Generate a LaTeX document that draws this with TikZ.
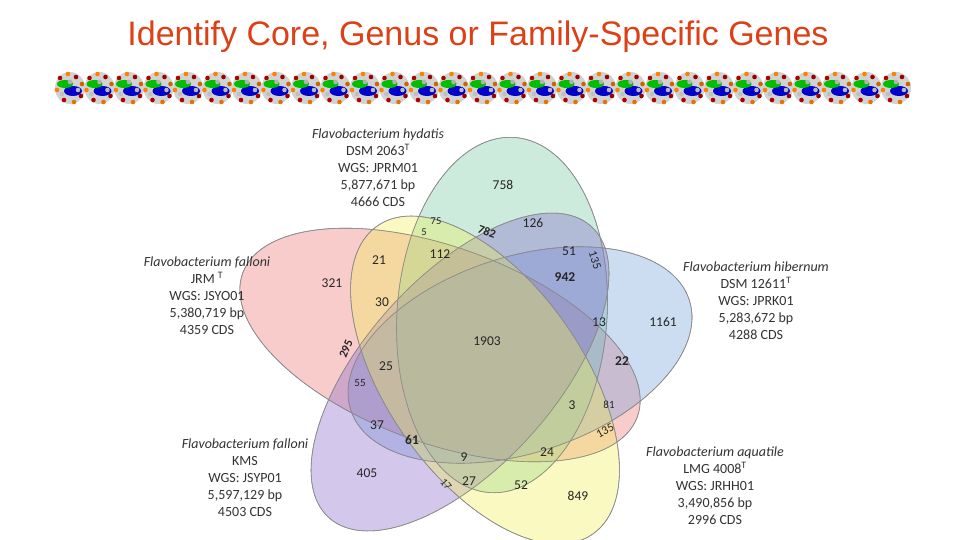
\documentclass[tikz,border=0pt]{standalone}
\usepackage{fontspec}
\setmainfont{Carlito}
\newfontfamily\titlefont{Liberation Sans}
\begin{document}
\begin{tikzpicture}[x=1pt,y=-1pt,
  venn/.style={draw=black!45,line width=0.6pt,fill opacity=0.35},
  num/.style={font=\fontsize{13.5}{14}\selectfont,text=black!85,inner sep=0pt},
  lab/.style={align=center,font=\fontsize{14}{17}\selectfont,text=black!80,inner sep=0pt}]
\useasboundingbox[fill=white] (0,0) rectangle (960,540);
\node[font=\titlefont\fontsize{34}{38}\selectfont,text={rgb,255:red,222;green,64;blue,22}] (title) at (478,37) {Identify Core, Genus or Family-Specific Genes};
% DNA strip
\foreach \i in {0,...,28}{
  \pgfmathsetmacro{\cx}{70+29.5*\i}
  \fill[gray!35] (\cx,88) ellipse (15 and 16);
  \fill[blue!80!black] (\cx+3,91) ellipse (9 and 5);
  \fill[green!75!black] (\cx-5,84) ellipse (8 and 4);
  \foreach \dx/\dy/\c in {-10/-10/red!70!black,-2/-14/orange,6/-11/red!60!black,12/-4/orange!80!black,-13/2/orange,-6/12/red!70!black,4/14/orange!90!black,11/8/red!60!black,0/-6/gray!60,-8/6/gray!50,8/2/gray!55}
    \fill[\c] (\cx+\dx,88+\dy) circle (2.3);
}
% ellipses
\fill[venn,fill={rgb,255:red,240;green,110;blue,110}] (440,345) ellipse[x radius=210,y radius=98,rotate=-20];
\fill[venn,fill={rgb,255:red,110;green,200;blue,160}] (502,315) ellipse[x radius=178,y radius=105,rotate=86];
\fill[venn,fill={rgb,255:red,110;green,160;blue,220}] (520,355) ellipse[x radius=178,y radius=98,rotate=18];
\fill[venn,fill={rgb,255:red,130;green,100;blue,200}] (460,372) ellipse[x radius=196,y radius=95,rotate=48];
\fill[venn,fill={rgb,255:red,240;green,240;blue,80}] (485,380) ellipse[x radius=188,y radius=98,rotate=-55];
\draw[draw=black!45,line width=0.6pt] (440,345) ellipse[x radius=210,y radius=98,rotate=-20]
  (502,315) ellipse[x radius=178,y radius=105,rotate=86]
  (520,355) ellipse[x radius=178,y radius=98,rotate=18]
  (460,372) ellipse[x radius=196,y radius=95,rotate=48]
  (485,380) ellipse[x radius=188,y radius=98,rotate=-55];
% numbers
\node[num] (n758) at (503,185) {758};
\node[num] (n126) at (533,223) {126};
\node[num,font=\fontsize{10.5}{12}\selectfont] (n75) at (436,221) {75};
\node[num,font=\fontsize{10.5}{12}\selectfont] (n5) at (424,232) {5};
\node[num,rotate=-20,font=\bfseries\fontsize{12}{14}\selectfont] (n782) at (487,232) {782};
\node[num] (n112) at (440,254) {112};
\node[num] (n21) at (379,260) {21};
\node[num] (n51) at (569,251) {51};
\node[num,rotate=-72,font=\fontsize{12}{14}\selectfont] (n135a) at (595,260) {135};
\node[num,font=\bfseries\fontsize{13.5}{14}\selectfont] (n942) at (565,277) {942};
\node[num] (n321) at (332,283) {321};
\node[num] (n30) at (382,302) {30};
\node[num] (n13) at (599,322) {13};
\node[num] (n1161) at (663,322) {1161};
\node[num] (n1903) at (487,341) {1903};
\node[num,rotate=68,font=\bfseries\fontsize{12}{14}\selectfont] (n295) at (346,349) {295};
\node[num] (n25) at (386,366) {25};
\node[num,font=\bfseries\fontsize{13.5}{14}\selectfont] (n22) at (622,361) {22};
\node[num,font=\fontsize{11}{12}\selectfont] (n55) at (360,383) {55};
\node[num] (n3) at (572,405) {3};
\node[num,font=\fontsize{11}{12}\selectfont] (n81) at (609,405) {81};
\node[num,rotate=28,font=\fontsize{12}{14}\selectfont] (n135b) at (605,431) {135};
\node[num] (n37) at (377,425) {37};
\node[num,font=\bfseries\fontsize{13.5}{14}\selectfont] (n61) at (412,440) {61};
\node[num] (n9) at (464,457) {9};
\node[num] (n24) at (547,452) {24};
\node[num] (n405) at (367,473) {405};
\node[num] (n27) at (469,481) {27};
\node[num,rotate=-50,font=\fontsize{11}{12}\selectfont] (n17) at (446,484) {17};
\node[num] (n52) at (521,485) {52};
\node[num] (n849) at (578,496) {849};
% labels
\node[lab,anchor=north] (hyd) at (378,129) {\textit{Flavobacterium hydatis}\\DSM 2063\textsuperscript{T}\\WGS: JPRM01\\5,877,671 bp\\4666 CDS};
\node[lab,anchor=north] (jrm) at (207,257) {\textit{Flavobacterium falloni}\\JRM \textsuperscript{T}\\WGS: JSYO01\\5,380,719 bp\\4359 CDS};
\node[lab,anchor=north] (hib) at (756,262) {\textit{Flavobacterium hibernum}\\DSM 12611\textsuperscript{T}\\WGS: JPRK01\\5,283,672 bp\\4288 CDS};
\node[lab,anchor=north] (kms) at (245,439) {\textit{Flavobacterium falloni}\\KMS\\WGS: JSYP01\\5,597,129 bp\\4503 CDS};
\node[lab,anchor=north] (aqu) at (715,447) {\textit{Flavobacterium aquatile}\\LMG 4008\textsuperscript{T}\\WGS: JRHH01\\3,490,856 bp\\2996 CDS};
\end{tikzpicture}
\end{document}
